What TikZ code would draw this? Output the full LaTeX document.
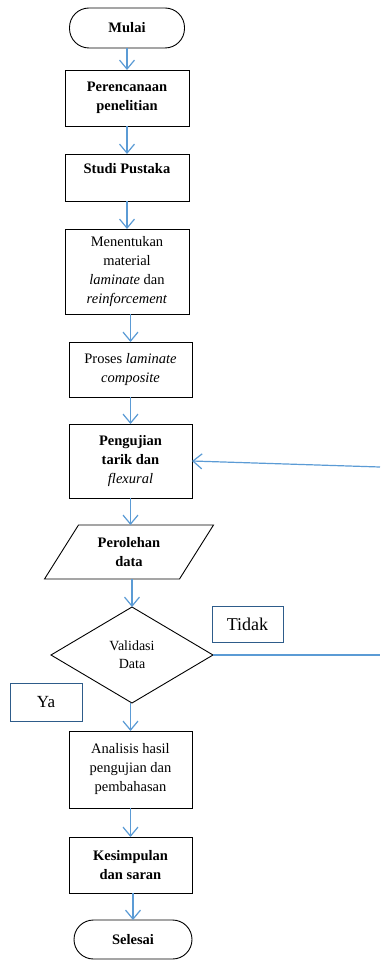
\documentclass[tikz,border=0pt]{standalone}
\usepackage{fontspec}
\setmainfont{LiberationSerif-Regular.ttf}[BoldFont=LiberationSerif-Bold.ttf,
ItalicFont=LiberationSerif-Italic.ttf, BoldItalicFont=LiberationSerif-BoldItalic.ttf]
\usetikzlibrary{positioning,shapes.geometric,arrows.meta}
\definecolor{arrblue}{HTML}{5B9BD5}
\definecolor{lblblue}{HTML}{2E5C8A}

\begin{document}
\begin{tikzpicture}[x=1pt,y=1pt,
	boxstyle/.style={rectangle, draw, line width=0.9pt, outer sep=0pt,
	minimum width=124pt, align=center, font=\fontsize{14.5}{19}\selectfont},
	boldbox/.style={boxstyle, font=\fontsize{14.5}{19}\selectfont\bfseries},
	termstyle/.style={boldbox, rounded corners=19.5pt, minimum height=40pt},
	decstyle/.style={diamond, draw, line width=0.9pt, outer sep=0pt, aspect=1.7,
	minimum width=162pt, minimum height=96pt, inner sep=0pt, align=center,
	font=\fontsize{14}{18}\selectfont},
	lblstyle/.style={rectangle, draw=lblblue, line width=0.9pt, outer sep=0pt},
	arr/.style={-{Straight Barb[length=9pt,width=15pt]}, draw=arrblue, line width=1.2pt}
	]
	\useasboundingbox (0,0) rectangle (380,-960);
	
	\node[termstyle, minimum width=115pt] (1) at (127,-28) {Mulai};
	\node[boldbox, minimum height=56pt] (2) [below=22pt of 1] {Perencanaan\\penelitian};
	\node[boldbox, minimum height=47pt] (3) [below=28pt of 2] {Studi Pustaka\\ \mbox{}};
	\node[boxstyle, minimum height=85pt] (4) [below=28pt of 3]
	{Menentukan\\material\\\textit{laminate} dan\\\textit{reinforcement}};
	\node[boxstyle, minimum height=55pt, minimum width=123pt] (5) [below=28pt of 4, xshift=3.5pt]
	{Proses \textit{laminate}\\\textit{composite}};
	\node[boldbox, minimum height=74pt, minimum width=123pt] (6) [below=27pt of 5]
	{Pengujian\\tarik dan\\\textmd{\textit{flexural}}};
	\node[boldbox, draw=none, minimum height=54pt, minimum width=101pt] (7) [below=27pt of 6, xshift=-1.5pt]
	{Perolehan\\data};
	\draw[line width=0.9pt] (7.north west) -- ([xshift=34pt]7.north east)
	-- (7.south east) -- ([xshift=-34pt]7.south west) -- cycle;
	\node[decstyle] (8) [below=28pt of 7, xshift=3pt] {Validasi\\Data};
	\node[boxstyle, minimum height=77pt, minimum width=123pt] (9) [below=28pt of 8, xshift=-1.5pt]
	{Analisis hasil\\pengujian dan\\pembahasan};
	\node[boldbox, minimum height=56pt, minimum width=123pt] (10) [below=29pt of 9]
	{Kesimpulan\\dan saran};
	\node[termstyle, minimum width=118pt, minimum height=39pt] (11) [below=27pt of 10, xshift=2.5pt] {Selesai};
	
	\node[lblstyle, minimum width=71pt, minimum height=36pt, font=\fontsize{18}{20}\selectfont]
	(tidak) [above right=13pt and -1pt of 8.east] {Tidak};
	\node[lblstyle, minimum width=72pt, minimum height=38pt, font=\fontsize{17}{20}\selectfont]
	(ya) [below left=28pt and -31pt of 8.west] {Ya};
	
	\coordinate (r1) at (380,-655);
	\coordinate (r2) at (380,-467);
	
	\draw[arr] (1) -- (2);
	\draw[arr] (2) -- (3);
	\draw[arr] (3) -- (4);
	\draw[arr] (4.south -| 5.north) -- (5.north);
	\draw[arr] (5) -- (6);
	\draw[arr] (6.south) -- (6.south |- 7.north);
	\draw[arr] (7.south -| 8.north) -- (8.north);
	\draw[arr] (8.south -| 9.north) -- (9.north);
	\draw[arr] (9) -- (10);
	\draw[arr] (10.south -| 11.north) -- (11.north);
	\draw[arrblue, line width=1.2pt] (8.east) -- (r1);
	\draw[arr] (r2) -- (6.east);
\end{tikzpicture}
\end{document}
